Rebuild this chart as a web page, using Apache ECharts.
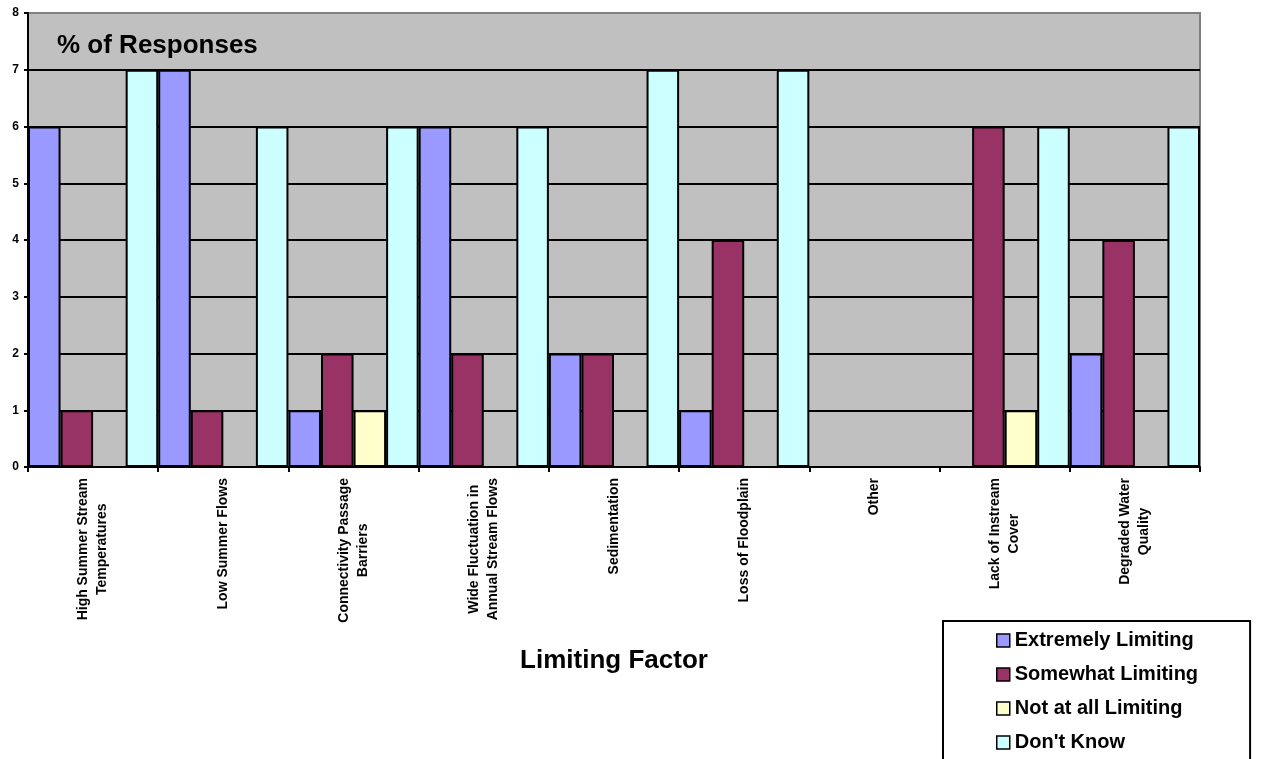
<!DOCTYPE html>
<html>
<head>
<meta charset="utf-8">
<script src="https://cdn.jsdelivr.net/npm/echarts@6/dist/echarts.min.js"></script>
<style>html,body{margin:0;padding:0;background:#fff;}#c{width:1270px;height:759px;}</style>
</head>
<body>
<div id="c"></div>
<script>
const categories = [
  'High Summer Stream\nTemperatures',
  'Low Summer Flows',
  'Connectivity Passage\nBarriers',
  'Wide Fluctuation in\nAnnual Stream Flows',
  'Sedimentation',
  'Loss of Floodplain',
  'Other',
  'Lack of Instream\nCover',
  'Degraded Water\nQuality'
];
const seriesNames = ['Extremely Limiting', 'Somewhat Limiting', 'Not at all Limiting', "Don't Know"];
const extremely = [6, 7, 1, 6, 2, 1, 0, 0, 2];
const somewhat  = [1, 1, 2, 2, 2, 4, 0, 6, 4];
const notAtAll  = [0, 0, 1, 0, 0, 0, 0, 1, 0];
const dontKnow  = [7, 6, 6, 6, 7, 7, 0, 6, 6];
const yTicks = [0, 1, 2, 3, 4, 5, 6, 7, 8];

const colors = ['#9999FF', '#993366', '#FFFFCC', '#CCFFFF'];
const values = [extremely, somewhat, notAtAll, dontKnow];
const FONT = 'Liberation Sans, Arial, sans-serif';

const chart = echarts.init(document.getElementById('c'));
chart.setOption({
  animation: false,
  textStyle: { fontFamily: FONT },
  title: {
    text: '% of Responses',
    left: 52, top: 28,
    textStyle: { fontFamily: FONT, fontSize: 26, fontWeight: 'bold', color: '#000' }
  },
  legend: {
    orient: 'vertical',
    left: 943, top: 621,
    height: 200,
    padding: [9, 52, 40, 53],
    itemGap: 13,
    itemWidth: 13, itemHeight: 13,
    icon: 'rect',
    borderColor: '#000', borderWidth: 2,
    backgroundColor: '#fff',
    data: seriesNames,
    textStyle: { fontFamily: FONT, fontSize: 20, fontWeight: 'bold', color: '#000', lineHeight: 21 },
    itemStyle: { borderColor: '#000', borderWidth: 1.5 }
  },
  grid: {
    left: 28, right: 70, top: 13, bottom: 292,
    show: true, backgroundColor: '#C0C0C0', borderColor: '#808080', borderWidth: 2
  },
  xAxis: {
    type: 'category',
    data: categories,
    name: 'Limiting Factor',
    nameLocation: 'middle',
    nameGap: 181,
    nameTextStyle: { fontFamily: FONT, fontSize: 26, fontWeight: 'bold', color: '#000' },
    axisLine: { lineStyle: { color: '#000', width: 2 } },
    axisTick: { show: true, length: 5, lineStyle: { color: '#000', width: 2 } },
    axisLabel: {
      interval: 0, rotate: 90, margin: 11,
      formatter: v => v.split('\n').map(l => '{c|' + l + '}').join('\n'),
      rich: { c: { align: 'center', fontFamily: FONT, fontSize: 14, fontWeight: 'bold', color: '#000', lineHeight: 19 } }
    }
  },
  yAxis: {
    type: 'value',
    min: 0, max: 8, interval: 1,
    axisLine: { show: true, lineStyle: { color: '#000', width: 2 } },
    axisTick: { show: true, length: 4, lineStyle: { color: '#000', width: 2 } },
    axisLabel: {
      margin: 9, fontFamily: FONT, fontSize: 12, fontWeight: 'bold', color: '#000',
      formatter: v => yTicks.includes(v) ? String(v) : ''
    },
    splitLine: { show: true, showMaxLine: false, showMinLine: false, lineStyle: { color: '#000', width: 2 } }
  },
  series: seriesNames.map((n, i) => ({
    name: n,
    type: 'bar',
    data: values[i],
    barGap: '0%',
    barCategoryGap: '0%',
    itemStyle: { color: colors[i], borderColor: '#000', borderWidth: 2 }
  }))
});
</script>
</body>
</html>
